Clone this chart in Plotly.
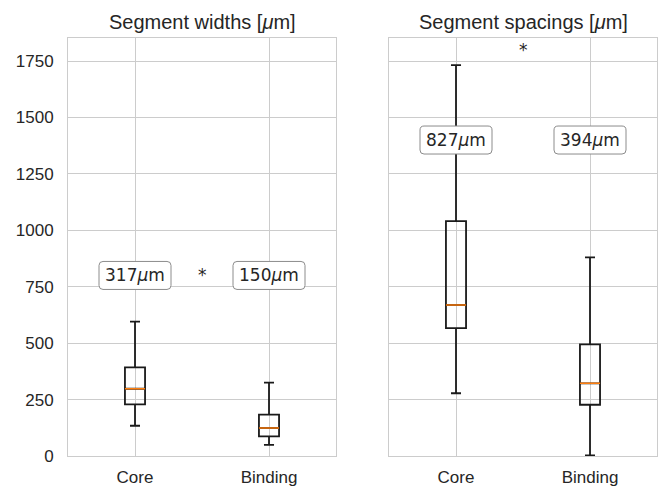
import plotly.graph_objects as go

categories = ["Core", "Binding"]

# Segment widths [µm]
widths_lower = [134, 49]
widths_q1 = [229, 87]
widths_median = [298, 124]
widths_q3 = [393, 183]
widths_upper = [595, 325]
widths_mean = [317, 150]

# Segment spacings [µm]
spacings_lower = [278, 3]
spacings_q1 = [567, 227]
spacings_median = [669, 322]
spacings_q3 = [1041, 495]
spacings_upper = [1732, 880]
spacings_mean = [827, 394]

label_y = [800, 1400]      # y of mean labels per panel
star_y = [800, 1800]       # y of significance star per panel
titles = ["Segment widths [<i>μ</i>m]", "Segment spacings [<i>μ</i>m]"]
y_ticks = [0, 250, 500, 750, 1000, 1250, 1500, 1750]
y_range = [0, 1852]

W, H = 665, 487
TXT = "#262626"
GRID = "#cccccc"

panels = [
    dict(lower=widths_lower, q1=widths_q1, med=widths_median, q3=widths_q3,
         upper=widths_upper, mean=widths_mean),
    dict(lower=spacings_lower, q1=spacings_q1, med=spacings_median, q3=spacings_q3,
         upper=spacings_upper, mean=spacings_mean),
]

x_domains = [[68 / W, 336 / W], [389 / W, 657 / W]]
y_domain = [(H - 456) / H, (H - 38) / H]

fig = go.Figure()

for i, p in enumerate(panels):
    xa = "x" if i == 0 else "x2"
    ya = "y" if i == 0 else "y2"
    # boxes + whiskers
    fig.add_trace(go.Box(
        x=categories, q1=p["q1"], median=p["med"], q3=p["q3"],
        lowerfence=p["lower"], upperfence=p["upper"],
        boxpoints=False, width=0.15, whiskerwidth=0.5,
        line=dict(color="#1a1a1a", width=1.8), fillcolor="rgba(0,0,0,0)",
        xaxis=xa, yaxis=ya, showlegend=False, hoverinfo="skip",
    ))
    # orange median lines
    fig.add_trace(go.Box(
        x=categories, q1=p["med"], median=p["med"], q3=p["med"],
        lowerfence=p["med"], upperfence=p["med"],
        boxpoints=False, width=0.15, whiskerwidth=0,
        line=dict(color="#ff7f0e", width=1.5), fillcolor="rgba(0,0,0,0)",
        xaxis=xa, yaxis=ya, showlegend=False, hoverinfo="skip",
    ))
    # mean labels with rounded boxes
    for j, c in enumerate(categories):
        fig.add_shape(
            type="path", xref=xa, yref=ya, xsizemode="pixel", ysizemode="pixel",
            xanchor=j, yanchor=label_y[i],
            path="M -32,-14 L 32,-14 Q 36,-14 36,-10 L 36,10 Q 36,14 32,14 "
                 "L -32,14 Q -36,14 -36,10 L -36,-10 Q -36,-14 -32,-14 Z",
            line=dict(color="#8c8c8c", width=1), fillcolor="white", layer="above",
        )
        fig.add_annotation(
            x=j, y=label_y[i], xref=xa, yref=ya,
            text=f"{p['mean'][j]}<i>μ</i>m", showarrow=False,
            font=dict(family="DejaVu Sans", size=17, color=TXT),
            xanchor="center", yanchor="middle",
        )
    fig.add_annotation(
        x=0.5, y=star_y[i], xref=xa, yref=ya, text="*", showarrow=False,
        font=dict(family="DejaVu Sans", size=17, color=TXT),
        xanchor="center", yanchor="middle",
    )
    # panel title
    fig.add_annotation(
        x=sum(x_domains[i]) / 2, y=1 - 22 / H, xref="paper", yref="paper",
        text=titles[i], showarrow=False,
        font=dict(family="Liberation Sans, Arial", size=20, color=TXT),
        xanchor="center", yanchor="middle",
    )

axis_common = dict(
    showline=True, mirror=True, linecolor=GRID, linewidth=1,
    showgrid=True, gridcolor=GRID, gridwidth=1, zeroline=False,
    automargin=False,
    tickfont=dict(family="Liberation Sans, Arial", size=17, color=TXT),
)

fig.update_layout(
    width=W, height=H, margin=dict(l=0, r=0, t=0, b=0),
    paper_bgcolor="white", plot_bgcolor="white", boxmode="overlay",
    showlegend=False,
    xaxis=dict(domain=x_domains[0], type="category", categoryorder="array",
               categoryarray=categories, range=[-0.5, 1.5], ticks="",
               ticklabelstandoff=6, anchor="y", **axis_common),
    xaxis2=dict(domain=x_domains[1], type="category", categoryorder="array",
                categoryarray=categories, range=[-0.5, 1.5], ticks="",
                ticklabelstandoff=6, anchor="y2", **axis_common),
    yaxis=dict(domain=y_domain, range=y_range, tickvals=y_ticks, ticks="",
               ticklabelstandoff=10, anchor="x", **axis_common),
    yaxis2=dict(domain=y_domain, range=y_range, tickvals=y_ticks, ticks="",
                showticklabels=False, matches="y", anchor="x2", **axis_common),
)

fig.write_html("out.html")
